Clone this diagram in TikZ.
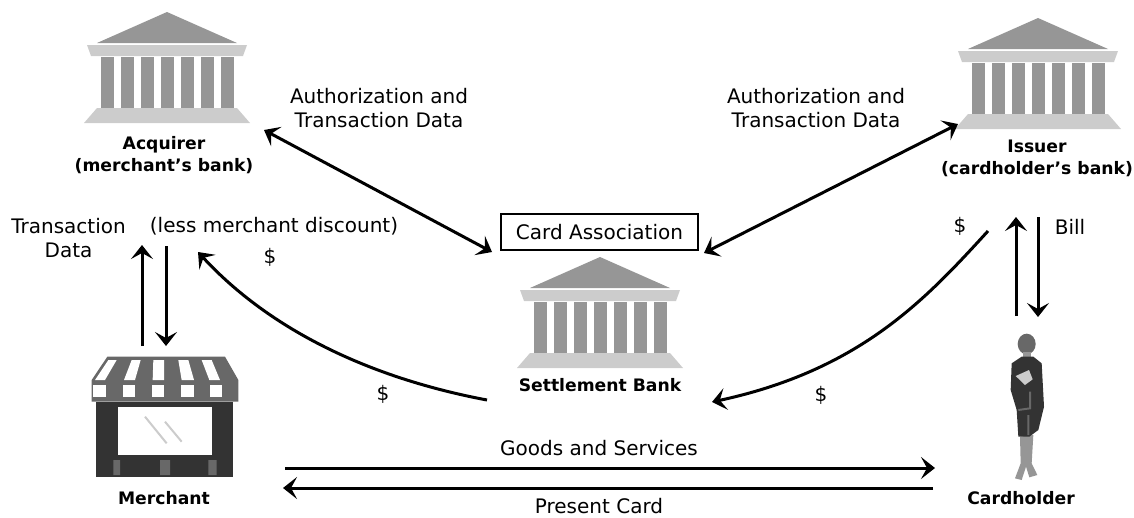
\documentclass[tikz,border=0pt]{standalone}
\usepackage{fontspec}
\setmainfont{DejaVu Sans}
\usetikzlibrary{arrows.meta}
\definecolor{bankdark}{HTML}{969696}
\definecolor{banklight}{HTML}{CCCCCC}
\definecolor{shopdark}{HTML}{333333}
\definecolor{shopmid}{HTML}{686868}
\tikzset{
  lab/.style = {font = \fontsize{20}{24}\selectfont, inner sep = 0pt, align = center},
  boldlab/.style = {font = \fontsize{17.2}{22}\selectfont\bfseries, inner sep = 0pt, align = center},
  flow/.style = {line width = 3pt, -{Stealth[length = 14pt, width = 22pt, inset = 6pt]}},
  flowboth/.style = {line width = 3pt, {Stealth[length = 14pt, width = 22pt, inset = 6pt]}-{Stealth[length = 14pt, width = 22pt, inset = 6pt]}},
  pics/bank/.style = {code = {
    \fill[bankdark] (0,0)--(70,31)--(-70,31)--cycle;
    \fill[banklight] (-80,33)--(80,33)--(76,44)--(-76,44)--cycle;
    \foreach \k in {-3,...,3}
      \fill[bankdark] ({\k*20-6.5},45) rectangle ({\k*20+6.5},96);
    \fill[banklight] (-70,96)--(70,96)--(83,111)--(-83,111)--cycle;
  }},
  pics/shop/.style = {code = {
    \begin{scope}[x = 1/3*1pt, y = -1/3*1pt]
    \fill[shopdark] (78,185) rectangle (490,412);
    \fill[white] (143,202) rectangle (425,345);
    \draw[banklight, line width = 2pt] (225,230)--(290,310) (285,245)--(335,305);
    \fill[shopmid] (130,360) rectangle (150,405) (270,360) rectangle (300,405) (415,360) rectangle (440,405);
    \fill[shopmid] (112,50)--(465,50)--(505,120)--(505,185)--(65,185)--(65,120)--cycle;
    \fill[white] (115,60)--(140,60)--(105,120)--(75,120)--cycle;
    \fill[white] (185,60)--(212,60)--(195,120)--(162,120)--cycle;
    \fill[white] (250,60)--(282,60)--(282,120)--(248,120)--cycle;
    \fill[white] (325,60)--(355,60)--(372,120)--(335,120)--cycle;
    \fill[white] (395,60)--(425,60)--(450,120)--(418,120)--cycle;
    \foreach \a/\b in {70/108,158/195,245/283,332/372,420/455}
      \fill[white] (\a,135) rectangle (\b,172);
    \end{scope}
  }},
  pics/person/.style = {code = {
    \begin{scope}[x = 1/3*1pt, y = -1/3*1pt]
    \fill[bankdark] (210,350)--(250,345)--(245,430)--(262,465)--(238,472)--(228,440)--(215,480)--(195,475)--(212,430)--cycle;
    \fill[shopmid] (230,72) ellipse (27 and 31);
    \fill[bankdark] (218,95) rectangle (242,115);
    \fill[shopdark] (185,130)--(215,110)--(250,110)--(275,130)--(282,260)--(265,330)--(238,350)--(205,350)--(200,270)--(182,210)--cycle;
    \fill[banklight] (197,168)--(237,150)--(248,178)--(225,195)--cycle;
    \draw[shopmid, line width = 2pt] (240,215)--(240,265)--(205,270) (235,285)--(235,345);
    \end{scope}
  }}
}
\begin{document}
\begin{tikzpicture}[x = 1pt, y = -1pt]
\useasboundingbox (0,0) rectangle (1134,517);
% icons
\pic at (167,12) {bank};
\pic at (1038,18) {bank};
\pic at (600,257) {bank};
\pic at (70,340) {shop};
\pic at (950,320) {person};
% labels
\node[boldlab] (acquirer) at (164,155) {Acquirer\\(merchant’s bank)};
\node[boldlab] (issuer) at (1037,158) {Issuer\\(cardholder’s bank)};
\node[boldlab] (settlement) at (600,385) {Settlement Bank};
\node[boldlab] (merchant) at (164,498) {Merchant};
\node[boldlab] (cardholder) at (1021,498) {Cardholder};
\node[lab, draw, line width = 1.5pt, minimum width = 197pt, minimum height = 36pt] (assoc) at (599.5,232) {Card Association};
\node[lab] (authleft) at (379,108) {Authorization and\\Transaction Data};
\node[lab] (authright) at (816,108) {Authorization and\\Transaction Data};
\node[lab] (transdata) at (68.5,238) {Transaction\\Data};
\node[lab] (less) at (274,226) {(less merchant discount)};
\node[lab] (dollarone) at (270,257) {\$};
\node[lab] (dollartwo) at (383,394) {\$};
\node[lab] (dollarthree) at (960,226) {\$};
\node[lab] (dollarfour) at (821,395) {\$};
\node[lab] (bill) at (1070,227) {Bill};
\node[lab] (goods) at (599,448) {Goods and Services};
\node[lab] (present) at (599,506) {Present Card};
% connector ends
\coordinate (acqend) at (264,130);
\coordinate (assocleft) at (492,252);
\coordinate (issend) at (958,124);
\coordinate (assocright) at (704,253);
\coordinate (mup) at (142,346);
\coordinate (mupend) at (142,245);
\coordinate (mdown) at (166,246);
\coordinate (mdownend) at (166,346);
\coordinate (setleft) at (487,400);
\coordinate (lessend) at (198,252);
\coordinate (issdollar) at (988,231);
\coordinate (setright) at (712,402);
\coordinate (cup) at (1016,316);
\coordinate (cupend) at (1016,217);
\coordinate (cdown) at (1038,217);
\coordinate (cdownend) at (1038,317);
\coordinate (gstart) at (285,468);
\coordinate (gend) at (935,468);
\coordinate (pstart) at (933,488);
\coordinate (pend) at (283,488);
% connectors
\draw[flowboth] (acqend)--(assocleft);
\draw[flowboth] (issend)--(assocright);
\draw[flow] (mup)--(mupend);
\draw[flow] (mdown)--(mdownend);
\draw[flow] (cup)--(cupend);
\draw[flow] (cdown)--(cdownend);
\draw[flow] (setleft) .. controls (370,378) and (270,330) .. (lessend);
\draw[flow] (issdollar) .. controls (925,300) and (860,370) .. (setright);
\draw[flow] (gstart)--(gend);
\draw[flow] (pstart)--(pend);
\end{tikzpicture}
\end{document}
